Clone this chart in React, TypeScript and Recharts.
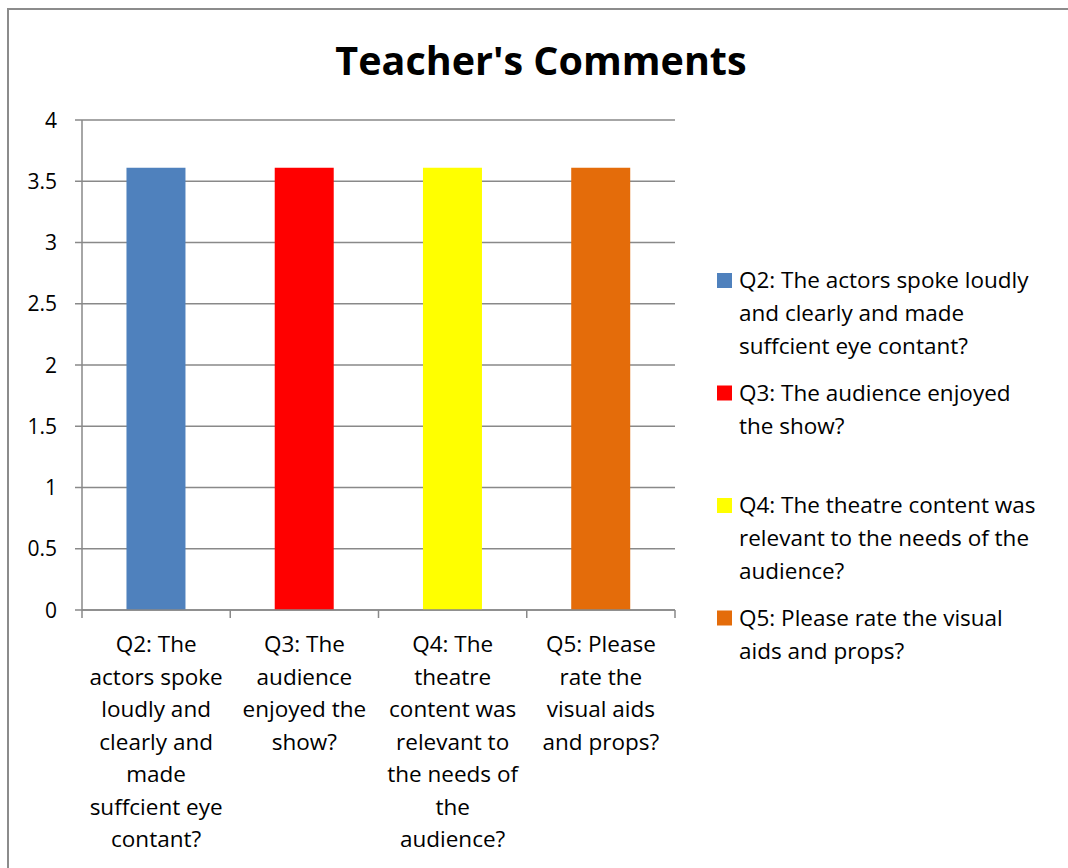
import { BarChart, Bar, Cell, XAxis, YAxis, CartesianGrid } from 'recharts';

const categories = [
  'Q2: The actors spoke loudly and clearly and made suffcient eye contant?',
  'Q3: The audience enjoyed the show?',
  'Q4: The theatre content was relevant to the needs of the audience?',
  'Q5: Please rate the visual aids and props?',
];

const scores = [3.61, 3.61, 3.61, 3.61];

const barColors = ['#4F81BD', '#FF0000', '#FFFF00', '#E46C0A'];

// wrapped the same way the original axis labels are
const tickLines = [
  ['Q2: The', 'actors spoke', 'loudly and', 'clearly and', 'made', 'suffcient eye', 'contant?'],
  ['Q3: The', 'audience', 'enjoyed the', 'show?'],
  ['Q4: The', 'theatre', 'content was', 'relevant to', 'the needs of', 'the', 'audience?'],
  ['Q5: Please', 'rate the', 'visual aids', 'and props?'],
];

const legendLines = [
  ['Q2: The actors spoke loudly', 'and clearly and made', 'suffcient eye contant?'],
  ['Q3: The audience enjoyed', 'the show?'],
  ['Q4: The theatre content was', 'relevant to the needs of the', 'audience?'],
  ['Q5: Please rate the visual', 'aids and props?'],
];

const yTicks = [0, 0.5, 1, 1.5, 2, 2.5, 3, 3.5, 4];

const data = categories.map((name, i) => ({ name, value: scores[i] }));

const FONT = '"Open Sans", "Noto Sans", sans-serif';
const GRID = '#898989';
const LABEL_SIZE = 22.5;

function CategoryTick(props: any) {
  const { x, y, payload, index } = props;
  const i = payload?.index ?? index;
  const half = payload?.offset || 593 / 8;
  const lines = tickLines[i] || [];
  return (
    <g>
      <line x1={x - half} x2={x - half} y1={y - 8} y2={y} stroke={GRID} strokeWidth={1.5} />
      {i === categories.length - 1 && (
        <line x1={x + half} x2={x + half} y1={y - 8} y2={y} stroke={GRID} strokeWidth={1.5} />
      )}
      {lines.map((t, k) => (
        <text
          key={k}
          x={x}
          y={y + 34 + k * 32.5}
          textAnchor="middle"
          fontSize={LABEL_SIZE}
          fontFamily={FONT}
          fill="#000"
        >
          {t}
        </text>
      ))}
    </g>
  );
}

function ValueTick(props: any) {
  const { x, y, payload } = props;
  return (
    <text x={x} y={y + 7.5} textAnchor="end" fontSize={21} fontFamily={FONT} fill="#000">
      {payload.value}
    </text>
  );
}

export default function App() {
  return (
    <div
      style={{
        position: 'absolute',
        left: 0,
        top: 0,
        width: 1068,
        height: 868,
        overflow: 'hidden',
        background: '#fff',
        fontFamily: FONT,
      }}
    >
      <div
        style={{
          position: 'absolute',
          left: 7,
          top: 8,
          width: 1200,
          height: 1000,
          borderLeft: '2px solid #8c8c8c',
          borderTop: '2px solid #8c8c8c',
        }}
      />
      <div style={{ position: 'absolute', left: 0, top: 0 }}>
        <BarChart
          width={1068}
          height={868}
          data={data}
          margin={{ top: 120, right: 393, bottom: 8, left: 22 }}
          barCategoryGap="30%"
        >
          <CartesianGrid vertical={false} stroke={GRID} strokeWidth={1.5} />
          <XAxis
            dataKey="name"
            height={250}
            interval={0}
            tickLine={false}
            tickSize={8}
            tickMargin={0}
            axisLine={{ stroke: GRID, strokeWidth: 1.5 }}
            tick={<CategoryTick />}
          />
          <YAxis
            width={60}
            domain={[0, 4]}
            ticks={yTicks}
            interval={0}
            tickSize={7}
            tickMargin={18}
            axisLine={{ stroke: GRID, strokeWidth: 1.5 }}
            tickLine={{ stroke: GRID, strokeWidth: 1.5 }}
            tick={<ValueTick />}
          />
          <Bar dataKey="value" isAnimationActive={false}>
            {data.map((d, i) => (
              <Cell key={d.name} fill={barColors[i % barColors.length]} />
            ))}
          </Bar>
        </BarChart>
      </div>
      <svg
        width={1068}
        height={868}
        style={{ position: 'absolute', left: 0, top: 0, pointerEvents: 'none' }}
      >
        <text
          x={541}
          y={75}
          textAnchor="middle"
          fontSize={39.5}
          fontWeight={700}
          fontFamily={FONT}
          fill="#000"
        >
          Teacher's Comments
        </text>
        {legendLines.map((lines, i) => (
          <g key={i}>
            <rect x={717} y={273 + i * 112.5} width={15} height={15} fill={barColors[i]} />
            {lines.map((t, k) => (
              <text
                key={k}
                x={739}
                y={288 + i * 112.5 + k * 33}
                fontSize={LABEL_SIZE}
                fontFamily={FONT}
                fill="#000"
              >
                {t}
              </text>
            ))}
          </g>
        ))}
      </svg>
    </div>
  );
}
